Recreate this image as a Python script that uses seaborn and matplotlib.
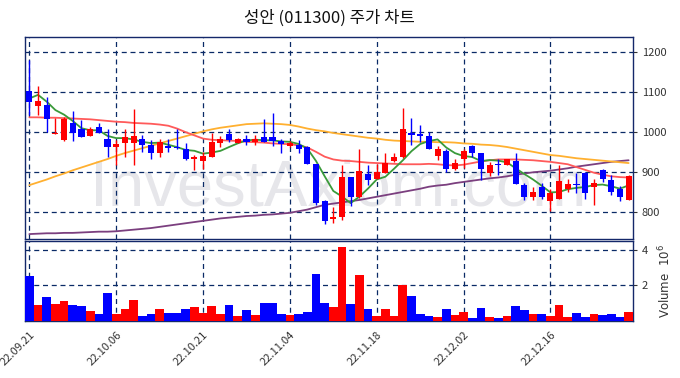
import matplotlib
matplotlib.use("Agg")
import numpy as np
import pandas as pd
import seaborn as sns
import matplotlib.pyplot as plt
from matplotlib.ticker import FuncFormatter, FixedLocator

# ---------------- data ----------------
dates = ["22.09.21", "22.09.22", "22.09.23", "22.09.26", "22.09.27", "22.09.28", "22.09.29", "22.09.30",
         "22.10.04", "22.10.05", "22.10.06", "22.10.07", "22.10.11", "22.10.12", "22.10.13", "22.10.14",
         "22.10.17", "22.10.18", "22.10.19", "22.10.20", "22.10.21", "22.10.24", "22.10.25", "22.10.26",
         "22.10.27", "22.10.28", "22.10.31", "22.11.01", "22.11.02", "22.11.03", "22.11.04", "22.11.07",
         "22.11.08", "22.11.09", "22.11.10", "22.11.11", "22.11.14", "22.11.15", "22.11.16", "22.11.17",
         "22.11.18", "22.11.21", "22.11.22", "22.11.23", "22.11.24", "22.11.25", "22.11.28", "22.11.29",
         "22.11.30", "22.12.01", "22.12.02", "22.12.05", "22.12.06", "22.12.07", "22.12.08", "22.12.09",
         "22.12.12", "22.12.13", "22.12.14", "22.12.15", "22.12.16", "22.12.19", "22.12.20", "22.12.21",
         "22.12.22", "22.12.23", "22.12.26", "22.12.27", "22.12.28", "22.12.29"]

open_ = [1102, 1065, 1067, 995, 979, 1023, 1008, 990, 1011, 983, 962, 971, 971, 981, 967, 947,
         964, 963, 956, 932, 927, 937, 973, 994, 971, 983, 975, 986, 986, 977, 965, 967,
         961, 919, 827, 782, 788, 887, 837, 894, 883, 898, 927, 936, 998, 994, 990, 940,
         952, 906, 933, 964, 946, 898, 918, 918, 927, 868, 838, 862, 827, 833, 857, 871,
         898, 862, 904, 879, 857, 831]
high = [1180, 1115, 1086, 1035, 1036, 1052, 1029, 1012, 1021, 1008, 979, 1006, 1056, 992, 979, 981,
        983, 1008, 972, 943, 950, 996, 989, 1006, 985, 992, 992, 1031, 1048, 981, 977, 979,
        964, 919, 830, 812, 917, 887, 958, 917, 919, 948, 946, 1060, 1035, 1017, 1000, 964,
        956, 933, 958, 967, 948, 925, 933, 933, 948, 873, 862, 873, 858, 918, 883, 896,
        900, 883, 906, 892, 864, 893]
low = [1042, 1041, 1000, 995, 978, 977, 987, 989, 997, 937, 917, 937, 917, 950, 931, 936,
       950, 957, 930, 904, 908, 937, 961, 975, 971, 967, 967, 975, 964, 948, 962, 948,
       919, 817, 769, 772, 781, 815, 835, 867, 882, 897, 925, 935, 967, 975, 958, 929,
       900, 904, 910, 937, 881, 889, 892, 917, 869, 829, 831, 833, 802, 832, 850, 848,
       833, 817, 875, 843, 827, 829]
close = [1075, 1077, 1031, 998, 1032, 996, 987, 1006, 997, 962, 969, 987, 989, 967, 947, 975,
         960, 960, 931, 937, 939, 974, 981, 979, 983, 975, 983, 975, 977, 969, 971, 956,
         919, 822, 778, 787, 887, 837, 903, 879, 900, 921, 937, 1007, 993, 989, 958, 958,
         906, 923, 952, 946, 908, 918, 916, 931, 871, 837, 850, 838, 848, 877, 871, 867,
         848, 873, 883, 850, 837, 889]
volume = [2520000, 890000, 1330000, 960000, 1110000, 890000, 830000, 560000, 390000, 1570000,
          390000, 670000, 1170000, 280000, 390000, 670000, 440000, 440000, 670000, 780000,
          440000, 830000, 390000, 890000, 280000, 610000, 330000, 1000000, 1000000, 390000,
          330000, 390000, 500000, 2610000, 1000000, 780000, 4130000, 940000, 2570000, 670000,
          280000, 670000, 280000, 2000000, 1390000, 390000, 280000, 220000, 670000, 330000,
          500000, 170000, 720000, 220000, 170000, 280000, 830000, 610000, 390000, 390000,
          280000, 890000, 220000, 440000, 220000, 390000, 330000, 390000, 220000, 500000]

ma5 = [1083, 1092, 1075, 1054, 1042.6, 1026.8, 1008.8, 1003.8, 1003.6, 989.6, 984.2, 984.2,
       980.8, 974.8, 971.8, 973.0, 967.6, 961.8, 954.6, 952.6, 945.4, 948.2, 952.4, 962.0,
       971.2, 978.4, 980.2, 979.0, 978.6, 975.8, 975.0, 969.6, 958.4, 927.4, 889.2, 852.4,
       838.6, 822.2, 838.4, 858.6, 881.2, 888.0, 908.0, 928.8, 951.6, 969.4, 976.8, 981.0,
       960.8, 946.8, 939.4, 937.0, 927.0, 929.4, 928.0, 923.8, 908.8, 894.6, 881.0, 865.4,
       848.8, 850.0, 856.8, 860.2, 862.2, 867.2, 868.4, 864.2, 858.2, 866.4]
ma20 = [1036, 1036, 1035, 1035, 1034, 1033, 1032, 1031, 1029, 1027, 1025, 1024, 1022, 1021,
        1020, 1018, 1015, 1008, 999, 991, 983, 980, 979, 978, 977, 975, 974, 973, 971, 970,
        969, 966, 961, 950, 938, 931, 928, 927, 925, 923, 922, 921, 920, 919, 919, 919, 920,
        919, 917, 916, 918, 922, 926, 929, 931, 931, 931, 930, 929, 927, 925, 922, 919, 912,
        905, 898, 893, 889, 887, 886]
ma60 = [867, 874, 881, 889, 896, 904, 911, 918, 925, 932, 940, 947, 953, 959, 965, 971, 977,
        983, 989, 995, 1001, 1006, 1010, 1013, 1016, 1019, 1020, 1021, 1020, 1019, 1017, 1013,
        1008, 1004, 1001, 997, 994, 991, 988, 985, 983, 980, 978, 977, 976, 975, 975, 974, 974,
        973, 971, 970, 968, 967, 965, 962, 958, 954, 950, 946, 942, 940, 937, 934, 932, 930,
        928, 926, 924, 922]
ma120 = [745, 746, 747, 747, 748, 748, 749, 750, 751, 751, 752, 754, 756, 758, 760, 763, 766,
         769, 772, 775, 778, 781, 784, 786, 788, 790, 791, 793, 794, 796, 798, 802, 806, 812,
         818, 821, 824, 827, 830, 834, 838, 842, 846, 850, 854, 858, 863, 866, 868, 872, 875,
         878, 881, 884, 886, 889, 893, 896, 899, 901, 903, 906, 909, 913, 916, 919, 922, 925,
         927, 929]

price_ticks = [800, 900, 1000, 1100, 1200]
vol_ticks = [2000000, 4000000]
tick_idx = [0, 10, 20, 30, 40, 50, 60]
title = "성안 (011300) 주가 차트"

# ---------------- frame ----------------
df = pd.DataFrame({"i": np.arange(len(dates)), "date": dates, "open": open_, "high": high,
                   "low": low, "close": close, "volume": volume,
                   "ma5": ma5, "ma20": ma20, "ma60": ma60, "ma120": ma120})
df["dir"] = np.where(df["close"] >= df["open"], "up", "down")

sns.set_style("white")
plt.rcParams["font.family"] = ["Noto Sans CJK KR", "DejaVu Sans"]

UP, DOWN = "#ff0000", "#0000ff"
GRID = "#0a2a66"
SPINE = "#14286a"

fig = plt.figure(figsize=(6.8, 3.78), dpi=100)
ax = fig.add_axes([0.0368, 0.368, 0.894, 0.535])
axv = fig.add_axes([0.0368, 0.151, 0.894, 0.212], sharex=ax)

# watermark
ax.text(0.515, 0.25, "InvestAxiom.com", transform=ax.transAxes, ha="center", va="center",
        fontsize=47, color="#e6e6ea", family=["Liberation Sans", "DejaVu Sans"], zorder=0)

# moving averages
for col, colr, lw in [("ma120", "#7b3f7f", 1.3), ("ma60", "#ffb030", 1.3),
                      ("ma20", "#ff5a5a", 1.3), ("ma5", "#3a9a3a", 1.3)]:
    sns.lineplot(data=df, x="i", y=col, ax=ax, color=colr, lw=lw, zorder=2, legend=False)

# candles
colors = np.where(df["dir"] == "up", UP, DOWN)
ax.vlines(df["i"], df["low"], df["high"], colors=colors, lw=1.0, zorder=3)
body_bottom = np.minimum(df["open"], df["close"])
body_h = np.maximum(np.abs(df["close"] - df["open"]), 2.5)
ax.bar(df["i"], body_h, bottom=body_bottom, width=0.7, color=colors, zorder=4, linewidth=0)

ax.set_xlim(-0.5, 69.5)
ax.set_ylim(733, 1237)
ax.set_xlabel("")
ax.set_ylabel("")
ax.yaxis.tick_right()
ax.yaxis.set_major_locator(FixedLocator(price_ticks))
ax.tick_params(axis="y", labelsize=8, colors="#333333", length=3)
ax.tick_params(axis="x", labelbottom=False, length=0)
ax.set_xticks(tick_idx)
ax.grid(True, color=GRID, linestyle=(0, (4, 3)), linewidth=0.9)
ax.set_axisbelow(True)
for s in ax.spines.values():
    s.set_color(SPINE)
    s.set_linewidth(1.0)
ax.set_title(title, fontsize=12, pad=10, color="#111111", fontweight="medium")

# volume
sns.barplot(data=df, x="i", y="volume", hue="dir", palette={"up": UP, "down": DOWN},
            native_scale=True, dodge=False, width=1.0, saturation=1, legend=False,
            linewidth=0, ax=axv, zorder=3)
axv.set_ylim(0, 4500000)
axv.set_xlim(-0.5, 69.5)
axv.yaxis.tick_right()
axv.yaxis.set_label_position("right")
axv.yaxis.set_major_locator(FixedLocator(vol_ticks))
axv.yaxis.set_major_formatter(FuncFormatter(lambda v, p: f"{v / 1e6:g}"))
axv.set_ylabel("Volume  $10^{6}$", fontsize=8.5, color="#333333",
               family=["DejaVu Sans"], labelpad=6)
axv.set_xlabel("")
axv.set_xticks(tick_idx)
axv.set_xticklabels([dates[k] for k in tick_idx], rotation=45, ha="right",
                    rotation_mode="anchor", fontsize=8, color="#333333")
axv.tick_params(axis="y", labelsize=8, colors="#333333", length=3)
axv.tick_params(axis="x", length=3, colors="#333333", labelcolor="#333333")
axv.grid(True, color=GRID, linestyle=(0, (4, 3)), linewidth=0.9)
axv.set_axisbelow(True)
for s in axv.spines.values():
    s.set_color(SPINE)
    s.set_linewidth(1.0)

fig.savefig("out.png", dpi=100)
